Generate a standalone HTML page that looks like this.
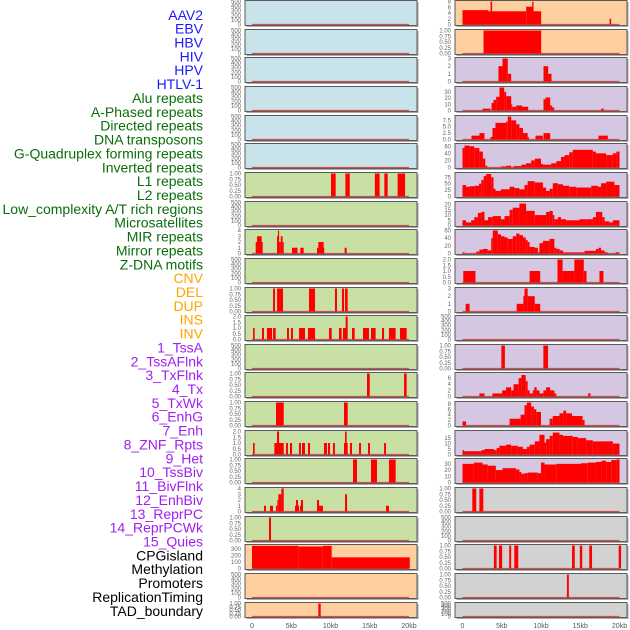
<!DOCTYPE html>
<html><head><meta charset="utf-8">
<style>
html,body{margin:0;padding:0;background:#fff;}
svg{display:block;font-family:"Liberation Sans",sans-serif;}
</style></head>
<body>
<svg id="chart" width="630" height="630" viewBox="0 0 630 630" xmlns="http://www.w3.org/2000/svg"></svg>
<script>
// ---- Row labels ----
const labelNames = ["AAV2","EBV","HBV","HIV","HPV","HTLV-1","Alu repeats","A-Phased repeats","Directed repeats","DNA transposons","G-Quadruplex forming repeats","Inverted repeats","L1 repeats","L2 repeats","Low_complexity A/T rich regions","Microsatellites","MIR repeats","Mirror repeats","Z-DNA motifs","CNV","DEL","DUP","INS","INV","1_TssA","2_TssAFlnk","3_TxFlnk","4_Tx","5_TxWk","6_EnhG","7_Enh","8_ZNF_Rpts","9_Het","10_TssBiv","11_BivFlnk","12_EnhBiv","13_ReprPC","14_ReprPCWk","15_Quies","CPGisland","Methylation","Promoters","ReplicationTiming","TAD_boundary"];
const labelGroups = [6,13,5,15,5];
const groupColors = ["#1a1aff","#0a6e0a","#ffa500","#a020f0","#000000"];

// ---- x axis ----
const xTickVals = [0,5,10,15,20];
const xTickLabels = ["0","5kb","10kb","15kb","20kb"];

// ---- tick sets ----
const tEmpty = [0,100,200,300,400,500];
const tEmptyL = ["0","100","200","300","400","500"];
const tOne = [0,0.25,0.5,0.75,1];
const tOneL = ["0.00","0.25","0.50","0.75","1.00"];
const tTwo = [0,0.5,1,1.5,2];
const tTwoL = ["0.0","0.5","1.0","1.5","2.0"];

// ---- column 1 series (segments: start kb, end kb, value) ----
const c1Alu = [[10.06,10.66,1],[11.9,12.45,1],[15.65,16.26,1],[16.86,17.28,1],[18.55,19.5,1]];
const c1Directed = [[0.47,1.36,2],[0.64,1.23,3],[3.19,3.45,3],[3.3,3.45,4],[3.45,3.66,2],[3.66,3.9,3],[3.9,4.04,2],[5.1,5.8,1],[6.15,6.58,1],[8.28,9.2,1],[8.45,9.13,2],[11.8,12.06,1]];
const c1GQuad = [[2.68,2.93,1],[3.19,3.95,1],[7.26,8.03,1],[10.57,10.83,1],[11.46,11.72,1],[11.85,12.19,1]];
const c1Inverted = [[0.13,0.34,1],[1.27,1.53,1],[1.91,2.55,1],[2.68,3.02,1],[4.46,4.71,1],[4.97,5.22,1],[5.99,6.75,1],[7.13,8.03,1],[9.81,10.15,1],[11.08,11.42,1],[11.59,12.06,1],[11.93,12.19,2],[12.74,13.08,1],[14.14,14.9,1],[15.16,15.75,1],[16.56,16.82,1],[17.45,18.3,1],[18.85,19.7,1]];
const c1Micro = [[14.65,15.0,1],[19.37,19.7,1]];
const c1MIR = [[3.06,4.04,1],[11.72,12.19,1]];
const c1Mirror = [[0.13,0.34,1],[2.85,4.04,1],[3.19,3.45,2],[4.33,4.58,1],[4.84,5.1,1],[5.99,6.24,1],[6.37,6.75,1],[7.13,7.39,1],[9.17,9.55,1],[9.68,9.94,1],[10.32,10.57,1],[11.72,12.19,1],[11.85,12.06,2],[12.48,12.74,1],[13.63,13.89,1],[14.78,15.03,1],[16.82,17.07,1]];
const c1ZDNA = [[12.87,13.38,1],[15.16,15.92,1],[17.45,18.3,1]];
const c1CNV = [[1.53,1.78,1],[2.29,2.68,1],[3.06,3.23,1],[3.23,3.36,2],[3.36,3.74,3],[3.74,4.04,4],[5.48,5.6,1],[5.6,5.86,2],[5.86,5.94,1],[6.11,6.24,1],[6.24,6.5,2],[8.28,8.54,2],[8.54,9.04,1],[11.85,12.11,3],[17.07,17.45,1]];
const c1DEL = [[2.16,2.42,1]];
const c1DUP = [[0,5.9,345],[5.9,9.0,335],[9.0,10.15,345],[10.15,20.1,170]];
const c1INV = [[8.45,8.75,1]];

// ---- column 2 series ----
const c2AAV2 = [[0,3.31,5],[3.57,3.78,8],[3.31,8.11,4.6],[8.11,8.96,6.2],[8.88,9.05,8],[9.04,10.02,4.6],[18.73,18.94,2]];
const c2EBV = [[2.68,10.02,1]];
const c2HBV = [[4.58,5.1,2],[5.1,5.77,3],[5.77,6.2,1],[10.32,10.91,2],[10.91,11.34,1]];
const c2HIV = [[2.55,3.57,3],[3.7,3.95,12],[3.95,4.29,17],[4.29,4.71,22],[4.71,5.31,37],[5.31,5.56,30],[5.56,6.2,23],[6.2,6.33,10],[6.33,6.84,6],[6.84,7.6,8],[7.6,8.37,6],[10.32,10.57,18],[10.57,11.17,21],[11.17,11.42,8],[11.42,11.68,5],[17.66,18.0,3]];
const c2HPV = [[1.14,2.16,1.5],[2.16,2.8,2.5],[3.57,3.82,1],[3.82,4.2,4.5],[4.2,5.55,6.5],[5.55,5.77,7],[5.77,6.2,9],[6.2,6.84,7.5],[6.84,7.25,6],[7.25,7.7,4.5],[7.7,8.3,2.5],[8.3,8.45,1],[9.3,10.23,1.5],[10.32,11.17,2.5],[17.32,18.51,1.5]];
const c2GQEdges = [0,0.25,0.9,1.5,2.15,2.6,2.9,3.15,4.9,5.55,6.2,6.5,7.5,8.1,8.75,9.2,10.0,10.25,11.3,11.95,12.55,13.0,13.6,14.05,16.6,17.0,18.3,19.15,19.6,20.0];
const c2GQVals = [55,62,60,55,45,25,5,0,3,5,0,4,8,12,20,25,10,8,12,18,30,35,43,50,45,40,35,40,45];
const c2L1Edges = [0,0.45,0.9,1.5,2.1,2.4,2.7,3.0,3.65,3.95,4.2,4.9,6.0,6.6,7.25,7.9,8.3,9.2,10.25,10.65,11.1,11.5,12.15,12.8,13.6,14.5,16.4,17.25,17.65,18.3,19.35,20.0];
const c2L1Vals = [45,38,40,42,50,65,80,88,75,30,22,28,38,33,28,45,60,55,35,22,30,52,48,42,38,35,42,38,52,58,45];
const c2L2Edges = [0,0.45,1.1,1.5,1.95,2.4,2.8,3.25,3.85,4.9,5.35,6.0,6.4,7.25,8.1,9.2,10.65,11.1,11.5,11.7,12.15,12.55,13.2,14.9,15.75,16.6,17.0,17.4,17.8,18.1,18.7,19.15,20.0];
const c2L2Vals = [5,3,5,8,12,13,5,8,9,6,9,15,17,21,14,10,13,14,10,6,8,6,5,6,6,8,13,13,8,4,3,5];
const c2MIREdges = [0,0.25,1.75,2.15,2.6,3.2,3.65,3.85,4.5,4.9,5.35,5.75,6.4,6.85,7.25,7.7,8.05,8.3,8.55,9.2,9.6,9.8,10.25,11.1,11.7,11.95,12.35,12.8,15.55,17.0,17.35,17.65,18.1,18.5,19.5,20.0];
const c2MIRVals = [3,0,5,10,12,8,40,60,50,45,42,38,45,52,48,42,35,30,17,15,3,27,33,38,15,12,8,3,7,12,15,8,3,0,3];
const c2Mirror = [[0.1,1.65,1],[8.55,9.9,1],[12.1,12.75,2],[12.75,14.25,1],[14.25,15.45,2],[15.45,15.8,1],[17.45,17.95,1]];
const c2ZDNA = [[0.4,0.9,1],[6.9,7.75,1],[7.75,7.9,2],[7.9,8.3,3],[8.3,9.2,2],[9.2,9.9,1]];
const c2DUP = [[4.95,5.4,1],[10.3,10.9,1]];
const c2INSEdges = [2.15,2.8,3.8,5.05,5.55,6.2,6.5,7.15,7.5,8.05,8.3,8.55,8.95,9.15,9.45,9.8,10.3,10.65,11.15,11.7,11.95];
const c2INSVals = [1,0,1,2,3,2,4,6,7,5,2,1,2,3,2,1,2,3,2,1];
const c2INSExtra = [[16.0,16.3,1]];
const c2INVEdges = [0,0.45,6.0,7.4,7.9,8.2,8.75,9.1,9.4,10.0,11.1,11.5,12.35,12.85,13.2,13.95,15.3,15.55];
const c2INVVals = [1.5,0,2.5,4,7.5,8.5,7,6,5,0,2.5,3.5,4.5,5.5,4.5,3.5,2];
const c2TxFEdges = [0,0.2,2.4,2.8,4.05,4.35,4.7,5.55,6.2,7.05,7.7,8.2,8.55,9.2,9.8,10.45,10.65,11.1,11.5,12.35,12.8,14.05,14.7,15.75,16.6,17.25,19.15,20.0];
const c2TxFVals = [4,3,4,5,4,6,8,9,8,7,5,7,9,12,18,11,14,17,20,18,17,16,15,13,12,12,10];
const c2TxEdges = [0,1.45,2.55,3.2,4.25,5.1,6.8,7.25,7.5,7.85,8.3,9.6,10.0,10.45,11.95,15.1,15.95,17.0,17.7,18.3,18.95,19.6,20.0];
const c2TxVals = [30,32,29,27,20,23,21,17,14,15,16,15,32,29,30,31,32,33,35,33,36,37];
const c2TxWk = [[1.25,1.75,1],[2.15,2.65,1]];
const c2EnhBiv = [[4.0,4.35,1],[4.65,5.05,1],[5.95,6.2,1],[6.6,7.1,1],[13.95,14.3,1],[14.95,15.25,1],[16.15,16.5,1],[19.9,20.2,1]];
const c2ReprPC = [[13.3,13.55,1]];

// ---- panel definitions ----
const BLUE="#c8e3ea", GREEN="#c8e0a4", PEACH="#fed0a0", PURPLE="#d5c6e1", GREY="#d2d2d2";
function prof(edges, vals){ const s=[]; for(let i=0;i<vals.length;i++){ if(vals[i]>0) s.push([edges[i],edges[i+1],vals[i]]); } return s; }
const E = {max:500, ticks:tEmpty, tl:tEmptyL};
const col1 = [
 [BLUE,E,[]],[BLUE,E,[]],[BLUE,E,[]],[BLUE,E,[]],[BLUE,E,[]],[BLUE,E,[]],
 [GREEN,{max:1,ticks:tOne,tl:tOneL},c1Alu],
 [GREEN,E,[]],
 [GREEN,{max:4,ticks:[0,1,2,3,4],tl:["0","1","2","3","4"]},c1Directed],
 [GREEN,E,[]],
 [GREEN,{max:1,ticks:tOne,tl:tOneL},c1GQuad],
 [GREEN,{max:2,ticks:tTwo,tl:tTwoL},c1Inverted],
 [GREEN,E,[]],
 [GREEN,{max:1,ticks:tOne,tl:tOneL},c1Micro],
 [GREEN,{max:1,ticks:tOne,tl:tOneL},c1MIR],
 [GREEN,{max:2,ticks:tTwo,tl:tTwoL},c1Mirror],
 [GREEN,{max:1,ticks:tOne,tl:tOneL},c1ZDNA],
 [GREEN,{max:4,ticks:[0,1,2,3,4],tl:["0","1","2","3","4"]},c1CNV],
 [GREEN,{max:1,ticks:tOne,tl:tOneL},c1DEL],
 [PEACH,{max:350,ticks:[0,100,200,300],tl:["0","100","200","300"]},c1DUP],
 [PEACH,E,[]],
 [PEACH,{max:1,ticks:tOne,tl:tOneL},c1INV]
];
const col2 = [
 [PEACH,{max:8,ticks:[0,2,4,6,8],tl:["0","2","4","6","8"]},c2AAV2],
 [PEACH,{max:1,ticks:tOne,tl:tOneL},c2EBV],
 [PURPLE,{max:3,ticks:[0,1,2,3],tl:["0","1","2","3"]},c2HBV],
 [PURPLE,{max:37,ticks:[0,10,20,30],tl:["0","10","20","30"]},c2HIV],
 [PURPLE,{max:9,ticks:[0,2.5,5,7.5],tl:["0.0","2.5","5.0","7.5"]},c2HPV],
 [PURPLE,{max:65,ticks:[0,20,40,60],tl:["0","20","40","60"]},prof(c2GQEdges,c2GQVals)],
 [PURPLE,{max:90,ticks:[0,25,50,75],tl:["0","25","50","75"]},prof(c2L1Edges,c2L1Vals)],
 [PURPLE,{max:22,ticks:[0,5,10,15,20],tl:["0","5","10","15","20"]},prof(c2L2Edges,c2L2Vals)],
 [PURPLE,{max:60,ticks:[0,20,40,60],tl:["0","20","40","60"]},prof(c2MIREdges,c2MIRVals)],
 [PURPLE,{max:2,ticks:tTwo,tl:tTwoL},c2Mirror],
 [PURPLE,{max:3,ticks:[0,1,2,3],tl:["0","1","2","3"]},c2ZDNA],
 [PURPLE,E,[]],
 [PURPLE,{max:1,ticks:tOne,tl:tOneL},c2DUP],
 [PURPLE,{max:7.5,ticks:[0,2,4,6],tl:["0","2","4","6"]},prof(c2INSEdges,c2INSVals).concat(c2INSExtra)],
 [PURPLE,{max:8.5,ticks:[0,2,4,6,8],tl:["0","2","4","6","8"]},prof(c2INVEdges,c2INVVals)],
 [PURPLE,{max:21,ticks:[0,5,10,15],tl:["0","5","10","15"]},prof(c2TxFEdges,c2TxFVals)],
 [PURPLE,{max:37,ticks:[0,10,20,30],tl:["0","10","20","30"]},prof(c2TxEdges,c2TxVals)],
 [GREY,{max:1,ticks:tOne,tl:tOneL},c2TxWk],
 [GREY,E,[]],
 [GREY,{max:1,ticks:tOne,tl:tOneL},c2EnhBiv],
 [GREY,{max:1,ticks:tOne,tl:tOneL},c2ReprPC],
 [GREY,E,[]]
];

const NS="http://www.w3.org/2000/svg";
const svg=document.getElementById('chart');
function mk(tag, attrs, parent){ const e=document.createElementNS(NS,tag); for(const k in attrs) e.setAttribute(k,attrs[k]); (parent||svg).appendChild(e); return e; }

// labels
let li=0;
labelGroups.forEach((n,g)=>{
  for(let k=0;k<n;k++){
    const t=mk('text',{x:203,y:(19.8+li*13.86).toFixed(1),'text-anchor':'end','font-size':'14',fill:groupColors[g]});
    
    
    t.textContent=labelNames[li]; li++;
  }
});

const PXKB=7.85;
function drawCol(col, left, off){
  const W=172;
  col.forEach((p,i)=>{
    const top=Math.round(i*28.65)+0.5;
    const h = i===21 ? 15 : 25;
    const g=mk('g',{});
    
    
    mk('rect',{x:left+1.5,y:top+1.5,width:W,height:h,fill:'#aaa'},g);
    mk('rect',{x:left,y:top,width:W,height:h,fill:p[0],stroke:'#5a5a5a','stroke-width':1},g);
    const ax=p[1];
    const y=v=> top+h-1-(v/ax.max)*(h-2);
    const x=kb=> left+off+kb*PXKB;
    // baseline
    const bl=mk('line',{x1:x(0),x2:x(20),y1:top+h-1,y2:top+h-1,stroke:'#d05050','stroke-width':1.2},g);
    
    
    p[2].forEach(s=>{
      const r=mk('rect',{x:x(s[0]).toFixed(2),y:y(s[2]).toFixed(2),width:Math.max(1,(x(s[1])-x(s[0]))).toFixed(2),height:(top+h-1-y(s[2])).toFixed(2),fill:'#ff0000'},g);
      
      
    });
    ax.ticks.forEach((tv,k)=>{
      const t=mk('text',{x:left-4,y:(y(tv)+2).toFixed(1),'text-anchor':'end','font-size':'6',fill:'#666'},g);
      
      
      t.textContent=ax.tl[k];
    });
  });
  xTickVals.forEach((v,k)=>{
    const t=mk('text',{x:left+off+v*PXKB,y:628,'text-anchor':'middle','font-size':'7',fill:'#555'});
    
    
    t.textContent=xTickLabels[k];
  });
}
drawCol(col1,245,7);
drawCol(col2,455,7.5);
</script>
</body></html>
